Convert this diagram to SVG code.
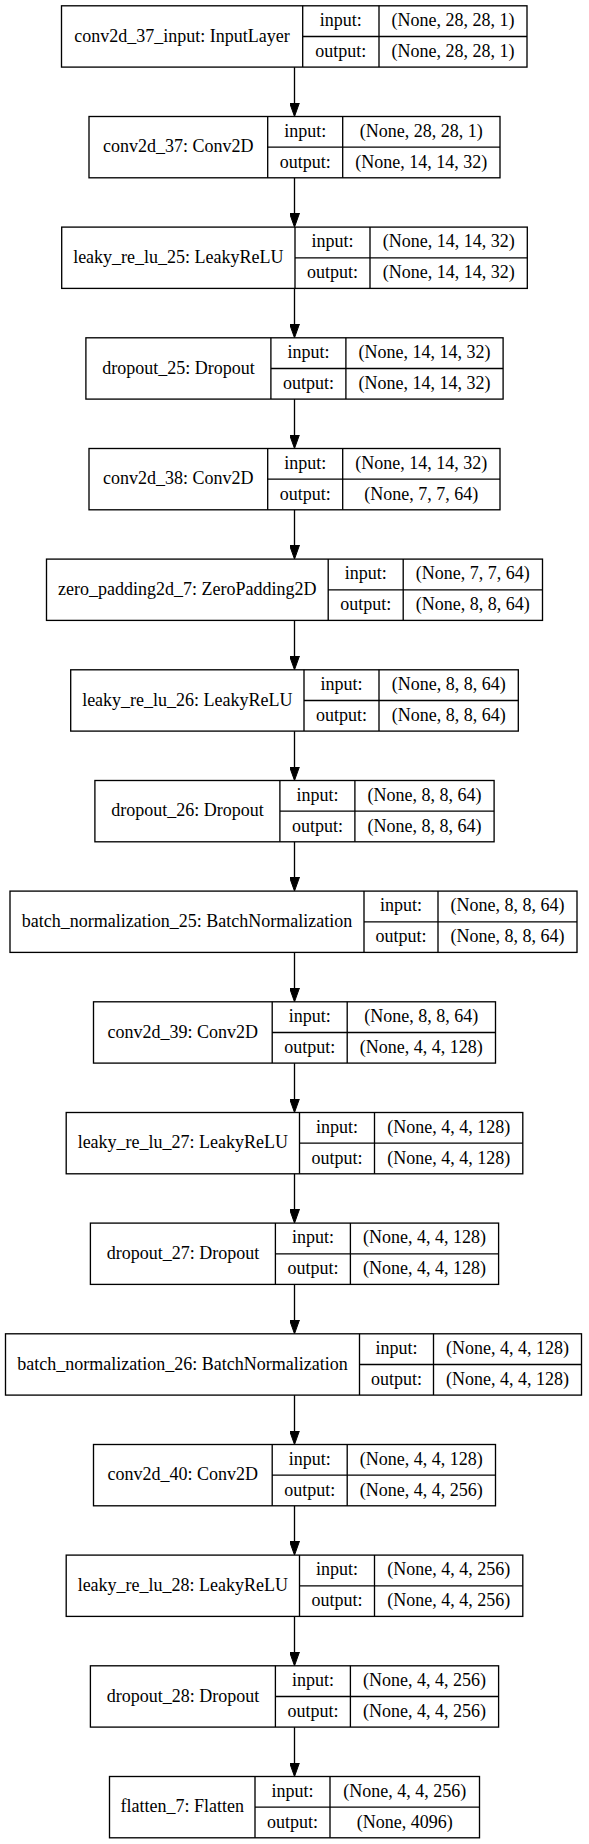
<svg xmlns="http://www.w3.org/2000/svg" width="589" height="1844" viewBox="0 0 589 1844">
<style>
.box{fill:#fff;stroke:#000;stroke-width:1.33}
.sep{stroke:#000;stroke-width:1.33;fill:none}
.t{font-family:"Liberation Serif","Times New Roman",serif;font-size:18px;text-anchor:middle;fill:#000}
.edge{stroke:#000;stroke-width:1.33;fill:none}
</style>
<defs>
<marker id="ah" markerUnits="userSpaceOnUse" viewBox="0 0 14 10" refX="2" refY="5" markerWidth="14" markerHeight="10" orient="auto">
<path d="M0,0 L14,5 L0,10 z" fill="#000" stroke="#000" stroke-width="1"/>
</marker>
</defs>
<rect width="589" height="1844" fill="#fff"/>
<g id="connectors">
<line class="edge" x1="294.5" y1="67.1" x2="294.5" y2="104.5" marker-end="url(#ah)"/>
<line class="edge" x1="294.5" y1="177.8" x2="294.5" y2="215.1" marker-end="url(#ah)"/>
<line class="edge" x1="294.5" y1="288.4" x2="294.5" y2="325.8" marker-end="url(#ah)"/>
<line class="edge" x1="294.5" y1="399.1" x2="294.5" y2="436.5" marker-end="url(#ah)"/>
<line class="edge" x1="294.5" y1="509.8" x2="294.5" y2="547.1" marker-end="url(#ah)"/>
<line class="edge" x1="294.5" y1="620.4" x2="294.5" y2="657.8" marker-end="url(#ah)"/>
<line class="edge" x1="294.5" y1="731.1" x2="294.5" y2="768.5" marker-end="url(#ah)"/>
<line class="edge" x1="294.5" y1="841.8" x2="294.5" y2="879.1" marker-end="url(#ah)"/>
<line class="edge" x1="294.5" y1="952.4" x2="294.5" y2="989.8" marker-end="url(#ah)"/>
<line class="edge" x1="294.5" y1="1063.1" x2="294.5" y2="1100.5" marker-end="url(#ah)"/>
<line class="edge" x1="294.5" y1="1173.8" x2="294.5" y2="1211.1" marker-end="url(#ah)"/>
<line class="edge" x1="294.5" y1="1284.4" x2="294.5" y2="1321.8" marker-end="url(#ah)"/>
<line class="edge" x1="294.5" y1="1395.1" x2="294.5" y2="1432.5" marker-end="url(#ah)"/>
<line class="edge" x1="294.5" y1="1505.8" x2="294.5" y2="1543.1" marker-end="url(#ah)"/>
<line class="edge" x1="294.5" y1="1616.4" x2="294.5" y2="1653.8" marker-end="url(#ah)"/>
<line class="edge" x1="294.5" y1="1727.1" x2="294.5" y2="1764.5" marker-end="url(#ah)"/>
</g>
<g id="node0">
<rect class="box" x="61.5" y="5.8" width="465.5" height="61.3"/>
<path class="sep" d="M302.7,5.8V67.1M379,5.8V67.1M302.7,36.5H527"/>
<text class="t" x="182.1" y="41.5">conv2d_37_input: InputLayer</text>
<text class="t" x="340.85" y="26.1">input:</text>
<text class="t" x="340.85" y="56.8">output:</text>
<text class="t" x="453" y="26.1">(None, 28, 28, 1)</text>
<text class="t" x="453" y="56.8">(None, 28, 28, 1)</text>
</g>
<g id="node1">
<rect class="box" x="89" y="116.5" width="411" height="61.3"/>
<path class="sep" d="M267.7,116.5V177.8M342.7,116.5V177.8M267.7,147.2H500"/>
<text class="t" x="178.35" y="152.2">conv2d_37: Conv2D</text>
<text class="t" x="305.2" y="136.8">input:</text>
<text class="t" x="305.2" y="167.5">output:</text>
<text class="t" x="421.35" y="136.8">(None, 28, 28, 1)</text>
<text class="t" x="421.35" y="167.5">(None, 14, 14, 32)</text>
</g>
<g id="node2">
<rect class="box" x="61.7" y="227.1" width="465.6" height="61.3"/>
<path class="sep" d="M295,227.1V288.4M370,227.1V288.4M295,257.8H527.3"/>
<text class="t" x="178.35" y="262.8">leaky_re_lu_25: LeakyReLU</text>
<text class="t" x="332.5" y="247.4">input:</text>
<text class="t" x="332.5" y="278.1">output:</text>
<text class="t" x="448.65" y="247.4">(None, 14, 14, 32)</text>
<text class="t" x="448.65" y="278.1">(None, 14, 14, 32)</text>
</g>
<g id="node3">
<rect class="box" x="85.9" y="337.8" width="417.2" height="61.3"/>
<path class="sep" d="M270.9,337.8V399.1M345.9,337.8V399.1M270.9,368.5H503.1"/>
<text class="t" x="178.4" y="373.5">dropout_25: Dropout</text>
<text class="t" x="308.4" y="358.1">input:</text>
<text class="t" x="308.4" y="388.8">output:</text>
<text class="t" x="424.5" y="358.1">(None, 14, 14, 32)</text>
<text class="t" x="424.5" y="388.8">(None, 14, 14, 32)</text>
</g>
<g id="node4">
<rect class="box" x="89" y="448.5" width="411" height="61.3"/>
<path class="sep" d="M267.7,448.5V509.8M342.7,448.5V509.8M267.7,479.2H500"/>
<text class="t" x="178.35" y="484.2">conv2d_38: Conv2D</text>
<text class="t" x="305.2" y="468.8">input:</text>
<text class="t" x="305.2" y="499.5">output:</text>
<text class="t" x="421.35" y="468.8">(None, 14, 14, 32)</text>
<text class="t" x="421.35" y="499.5">(None, 7, 7, 64)</text>
</g>
<g id="node5">
<rect class="box" x="46.5" y="559.1" width="496" height="61.3"/>
<path class="sep" d="M328.2,559.1V620.4M403.2,559.1V620.4M328.2,589.8H542.5"/>
<text class="t" x="187.35" y="594.8">zero_padding2d_7: ZeroPadding2D</text>
<text class="t" x="365.7" y="579.4">input:</text>
<text class="t" x="365.7" y="610.1">output:</text>
<text class="t" x="472.85" y="579.4">(None, 7, 7, 64)</text>
<text class="t" x="472.85" y="610.1">(None, 8, 8, 64)</text>
</g>
<g id="node6">
<rect class="box" x="70.7" y="669.8" width="447.6" height="61.3"/>
<path class="sep" d="M304,669.8V731.1M379,669.8V731.1M304,700.5H518.3"/>
<text class="t" x="187.35" y="705.5">leaky_re_lu_26: LeakyReLU</text>
<text class="t" x="341.5" y="690.1">input:</text>
<text class="t" x="341.5" y="720.8">output:</text>
<text class="t" x="448.65" y="690.1">(None, 8, 8, 64)</text>
<text class="t" x="448.65" y="720.8">(None, 8, 8, 64)</text>
</g>
<g id="node7">
<rect class="box" x="94.9" y="780.5" width="399.2" height="61.3"/>
<path class="sep" d="M279.9,780.5V841.8M354.9,780.5V841.8M279.9,811.2H494.1"/>
<text class="t" x="187.4" y="816.2">dropout_26: Dropout</text>
<text class="t" x="317.4" y="800.8">input:</text>
<text class="t" x="317.4" y="831.5">output:</text>
<text class="t" x="424.5" y="800.8">(None, 8, 8, 64)</text>
<text class="t" x="424.5" y="831.5">(None, 8, 8, 64)</text>
</g>
<g id="node8">
<rect class="box" x="10" y="891.1" width="567" height="61.3"/>
<path class="sep" d="M364,891.1V952.4M438,891.1V952.4M364,921.8H577"/>
<text class="t" x="187" y="926.8">batch_normalization_25: BatchNormalization</text>
<text class="t" x="401" y="911.4">input:</text>
<text class="t" x="401" y="942.1">output:</text>
<text class="t" x="507.5" y="911.4">(None, 8, 8, 64)</text>
<text class="t" x="507.5" y="942.1">(None, 8, 8, 64)</text>
</g>
<g id="node9">
<rect class="box" x="93.5" y="1001.8" width="402" height="61.3"/>
<path class="sep" d="M272.2,1001.8V1063.1M347.2,1001.8V1063.1M272.2,1032.5H495.5"/>
<text class="t" x="182.85" y="1037.5">conv2d_39: Conv2D</text>
<text class="t" x="309.7" y="1022.1">input:</text>
<text class="t" x="309.7" y="1052.8">output:</text>
<text class="t" x="421.35" y="1022.1">(None, 8, 8, 64)</text>
<text class="t" x="421.35" y="1052.8">(None, 4, 4, 128)</text>
</g>
<g id="node10">
<rect class="box" x="66.2" y="1112.5" width="456.6" height="61.3"/>
<path class="sep" d="M299.5,1112.5V1173.8M374.5,1112.5V1173.8M299.5,1143.2H522.8"/>
<text class="t" x="182.85" y="1148.2">leaky_re_lu_27: LeakyReLU</text>
<text class="t" x="337" y="1132.8">input:</text>
<text class="t" x="337" y="1163.5">output:</text>
<text class="t" x="448.65" y="1132.8">(None, 4, 4, 128)</text>
<text class="t" x="448.65" y="1163.5">(None, 4, 4, 128)</text>
</g>
<g id="node11">
<rect class="box" x="90.4" y="1223.1" width="408.2" height="61.3"/>
<path class="sep" d="M275.4,1223.1V1284.4M350.4,1223.1V1284.4M275.4,1253.8H498.6"/>
<text class="t" x="182.9" y="1258.8">dropout_27: Dropout</text>
<text class="t" x="312.9" y="1243.4">input:</text>
<text class="t" x="312.9" y="1274.1">output:</text>
<text class="t" x="424.5" y="1243.4">(None, 4, 4, 128)</text>
<text class="t" x="424.5" y="1274.1">(None, 4, 4, 128)</text>
</g>
<g id="node12">
<rect class="box" x="5.5" y="1333.8" width="576" height="61.3"/>
<path class="sep" d="M359.5,1333.8V1395.1M433.5,1333.8V1395.1M359.5,1364.5H581.5"/>
<text class="t" x="182.5" y="1369.5">batch_normalization_26: BatchNormalization</text>
<text class="t" x="396.5" y="1354.1">input:</text>
<text class="t" x="396.5" y="1384.8">output:</text>
<text class="t" x="507.5" y="1354.1">(None, 4, 4, 128)</text>
<text class="t" x="507.5" y="1384.8">(None, 4, 4, 128)</text>
</g>
<g id="node13">
<rect class="box" x="93.5" y="1444.5" width="402" height="61.3"/>
<path class="sep" d="M272.2,1444.5V1505.8M347.2,1444.5V1505.8M272.2,1475.2H495.5"/>
<text class="t" x="182.85" y="1480.2">conv2d_40: Conv2D</text>
<text class="t" x="309.7" y="1464.8">input:</text>
<text class="t" x="309.7" y="1495.5">output:</text>
<text class="t" x="421.35" y="1464.8">(None, 4, 4, 128)</text>
<text class="t" x="421.35" y="1495.5">(None, 4, 4, 256)</text>
</g>
<g id="node14">
<rect class="box" x="66.2" y="1555.1" width="456.6" height="61.3"/>
<path class="sep" d="M299.5,1555.1V1616.4M374.5,1555.1V1616.4M299.5,1585.8H522.8"/>
<text class="t" x="182.85" y="1590.8">leaky_re_lu_28: LeakyReLU</text>
<text class="t" x="337" y="1575.4">input:</text>
<text class="t" x="337" y="1606.1">output:</text>
<text class="t" x="448.65" y="1575.4">(None, 4, 4, 256)</text>
<text class="t" x="448.65" y="1606.1">(None, 4, 4, 256)</text>
</g>
<g id="node15">
<rect class="box" x="90.4" y="1665.8" width="408.2" height="61.3"/>
<path class="sep" d="M275.4,1665.8V1727.1M350.4,1665.8V1727.1M275.4,1696.5H498.6"/>
<text class="t" x="182.9" y="1701.5">dropout_28: Dropout</text>
<text class="t" x="312.9" y="1686.1">input:</text>
<text class="t" x="312.9" y="1716.8">output:</text>
<text class="t" x="424.5" y="1686.1">(None, 4, 4, 256)</text>
<text class="t" x="424.5" y="1716.8">(None, 4, 4, 256)</text>
</g>
<g id="node16">
<rect class="box" x="109.5" y="1776.5" width="370" height="61.3"/>
<path class="sep" d="M255,1776.5V1837.8M330,1776.5V1837.8M255,1807.2H479.5"/>
<text class="t" x="182.25" y="1812.2">flatten_7: Flatten</text>
<text class="t" x="292.5" y="1796.8">input:</text>
<text class="t" x="292.5" y="1827.5">output:</text>
<text class="t" x="404.75" y="1796.8">(None, 4, 4, 256)</text>
<text class="t" x="404.75" y="1827.5">(None, 4096)</text>
</g>
</svg>
